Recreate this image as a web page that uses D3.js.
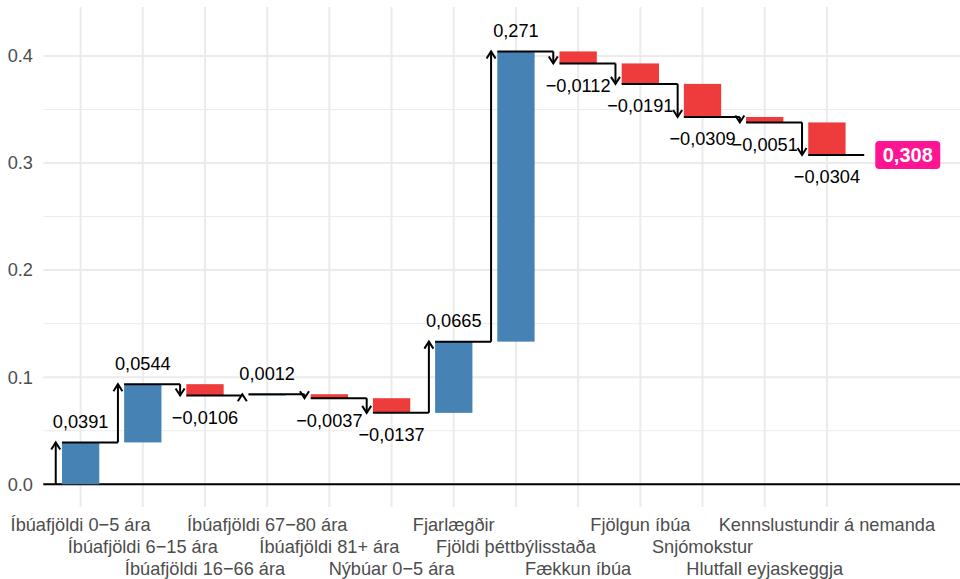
<!DOCTYPE html>
<html>
<head>
<meta charset="utf-8">
<script src="https://cdn.jsdelivr.net/npm/d3@7"></script>
<style>
  html, body { margin: 0; padding: 0; background: #ffffff; }
  svg { display: block; font-family: "Liberation Sans", Arial, Helvetica, sans-serif; }
</style>
</head>
<body>
<svg id="chart" width="960" height="579"></svg>
<script>
// ---- Data ----
const categories = [
  "Íbúafjöldi 0−5 ára",
  "Íbúafjöldi 6−15 ára",
  "Íbúafjöldi 16−66 ára",
  "Íbúafjöldi 67−80 ára",
  "Íbúafjöldi 81+ ára",
  "Nýbúar 0−5 ára",
  "Fjarlægðir",
  "Fjöldi þéttbýlisstaða",
  "Fækkun íbúa",
  "Fjölgun íbúa",
  "Snjómokstur",
  "Hlutfall eyjaskeggja",
  "Kennslustundir á nemanda"
];
const values = [0.0391, 0.0544, -0.0106, 0.0012, -0.0037, -0.0137, 0.0665, 0.271, -0.0112, -0.0191, -0.0309, -0.0051, -0.0304];
const totalValue = 0.308;
const yTicks = [0, 0.1, 0.2, 0.3, 0.4];
const yMinorTicks = [0.05, 0.15, 0.25, 0.35];

// ---- Setup ----
const svg = d3.select("#chart");
const panel = { left: 43.3, right: 960, top: 7, bottom: 507 };

const x = d3.scaleLinear().domain([-0.6, 14.14]).range([panel.left, panel.right]);
const y = d3.scaleLinear().domain([-0.0212, 0.4457]).range([panel.bottom, panel.top]);

const locale = d3.formatLocale({ decimal: ",", thousands: ".", grouping: [3], currency: ["", ""], minus: "\u2212" });
const fmt = locale.format(".3~r");
const tickFmt = d3.format(".1f");

// cumulative
const steps = [];
let run = 0;
values.forEach((v, i) => {
  const start = run;
  run = run + v;
  steps.push({ i, v, start, end: run, name: categories[i] });
});
const finalEnd = run;

// ---- Grid ----
const grid = svg.append("g");
grid.selectAll("line.minor").data(yMinorTicks).join("line")
  .attr("x1", panel.left).attr("x2", panel.right)
  .attr("y1", d => y(d)).attr("y2", d => y(d))
  .attr("stroke", "#EBEBEB").attr("stroke-width", 1);
grid.selectAll("line.major").data(yTicks).join("line")
  .attr("x1", panel.left).attr("x2", panel.right)
  .attr("y1", d => y(d)).attr("y2", d => y(d))
  .attr("stroke", "#EBEBEB").attr("stroke-width", 2);
grid.selectAll("line.vert").data(categories).join("line")
  .attr("x1", (d, i) => x(i)).attr("x2", (d, i) => x(i))
  .attr("y1", panel.top).attr("y2", panel.bottom)
  .attr("stroke", "#EBEBEB").attr("stroke-width", 2);

// zero line
svg.append("line")
  .attr("x1", panel.left).attr("x2", panel.right)
  .attr("y1", y(0)).attr("y2", y(0))
  .attr("stroke", "#000").attr("stroke-width", 2);

// ---- Bars ----
svg.append("g").selectAll("rect").data(steps).join("rect")
  .attr("x", d => x(d.i - 0.3))
  .attr("width", d => x(d.i + 0.3) - x(d.i - 0.3))
  .attr("y", d => y(Math.max(d.start, d.end)))
  .attr("height", d => Math.abs(y(d.start) - y(d.end)))
  .attr("fill", d => d.v >= 0 ? "#4682B4" : "#EE3B3B");

// ---- Connectors ----
const conn = svg.append("g").attr("stroke", "#000").attr("stroke-width", 2).attr("fill", "none");
conn.selectAll("line.h").data(steps).join("line")
  .attr("x1", d => x(d.i - 0.3)).attr("x2", d => x(d.i + 0.6))
  .attr("y1", d => y(d.end)).attr("y2", d => y(d.end));
conn.selectAll("line.v").data(steps).join("line")
  .attr("x1", d => x(d.i - 0.4)).attr("x2", d => x(d.i - 0.4))
  .attr("y1", d => y(d.start)).attr("y2", d => y(d.end));
conn.selectAll("path.head").data(steps).join("path")
  .attr("stroke-linejoin", "miter")
  .attr("d", d => {
    const ax = x(d.i - 0.4), ay = y(d.end);
    const dir = d.v >= 0 ? 1 : -1; // up arrow -> wings below
    return `M${ax - 4.5},${ay + dir * 7}L${ax},${ay}L${ax + 4.5},${ay + dir * 7}`;
  });

// ---- Value labels ----
svg.append("g").selectAll("text").data(steps).join("text")
  .attr("x", d => x(d.i))
  .attr("y", d => d.v >= 0 ? y(d.end) - 14.5 : y(d.end) + 28.5)
  .attr("text-anchor", "middle")
  .attr("font-size", 18.2)
  .attr("fill", "#000")
  .text(d => fmt(d.v));

// ---- Total label ----
const tg = svg.append("g").attr("transform", `translate(${x(13.3)},${y(finalEnd)})`);
tg.append("rect").attr("x", -32.5).attr("y", -14).attr("width", 65).attr("height", 28)
  .attr("rx", 4).attr("fill", "#FF1493");
tg.append("text").attr("text-anchor", "middle").attr("dy", "0.36em")
  .attr("font-size", 20).attr("font-weight", "bold").attr("fill", "#fff")
  .text(fmt(totalValue));

// ---- Axes text ----
svg.append("g").selectAll("text").data(yTicks).join("text")
  .attr("x", 33).attr("y", d => y(d)).attr("dy", "0.35em")
  .attr("text-anchor", "end").attr("font-size", 18.2).attr("fill", "#4D4D4D")
  .text(d => tickFmt(d));

const rowBase = [531, 553, 575];
svg.append("g").selectAll("text").data(categories).join("text")
  .attr("x", (d, i) => x(i)).attr("y", (d, i) => rowBase[i % 3])
  .attr("text-anchor", "middle").attr("font-size", 18.2).attr("fill", "#4D4D4D")
  .text(d => d);
</script>
</body>
</html>
